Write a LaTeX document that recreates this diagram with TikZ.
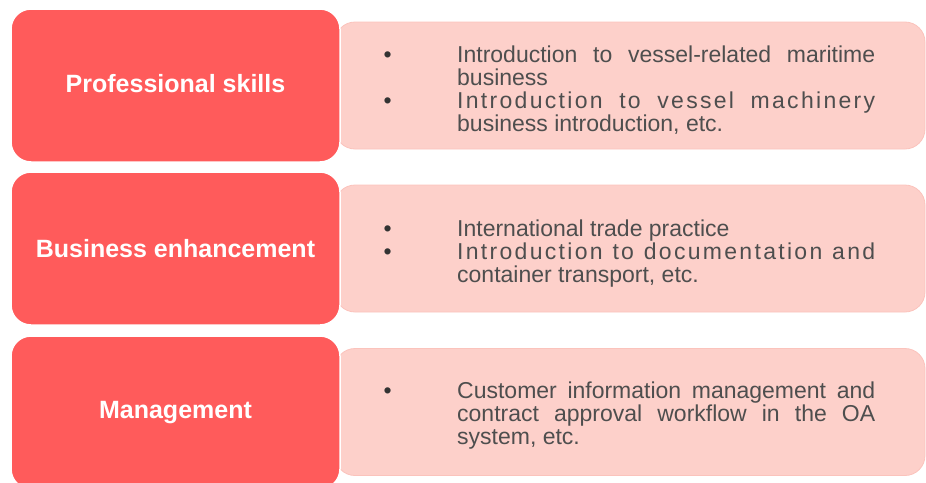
\documentclass[tikz,border=0pt]{standalone}
\usepackage{fontspec}
\setmainfont{Liberation Sans}
\newfontfamily\spacedfont[LetterSpace=10]{Liberation Sans}
\usepackage{xcolor}
\usepackage{tikz}
\definecolor{headred}{HTML}{FF5B5B}
\definecolor{bodypink}{HTML}{FDD0CA}
\definecolor{bodyline}{HTML}{FBC3BC}
\definecolor{bodytext}{HTML}{4E4E4E}
\definecolor{dotgray}{HTML}{333333}
\newcommand{\dotitem}{\leavevmode\llap{\textcolor{dotgray}{\textbullet}\hspace{65.5pt}}}% bullet hangs left of the text
\newcommand{\fullline}[1]{\makebox[418pt][s]{#1}}% justified line
\tikzset{
  headbox/.style={rectangle, rounded corners=20pt, fill=headred, draw=white, line width=1.5pt,
    minimum width=329pt, minimum height=153pt, inner sep=0pt, text=white,
    font=\fontsize{25}{25}\selectfont\bfseries},
  bodybox/.style={rectangle, rounded corners=20pt, fill=bodypink, draw=bodyline, line width=0.8pt,
    minimum width=590pt, minimum height=127pt, inner sep=0pt},
  bodytext/.style={anchor=base west, inner sep=0pt, text=bodytext,
    font=\fontsize{23}{23}\selectfont}
}

\begin{document}
\begin{tikzpicture}[x=1pt,y=-1pt]% one unit = one pixel of the 926x482 sheet, y downwards
\useasboundingbox (0,0) rectangle (926,482);
\node[bodybox] (skillsbody) at (630,85.5) {};% pink panels first
\node[bodybox] (tradebody) at (630,248.5) {};
\node[bodybox] (mgmtbody) at (630,412) {};
\node[headbox] (skills) at (175.5,85.5) {\raisebox{4pt}{Professional skills}};% red heads on top
\node[headbox] (trade) at (175.5,248.5) {Business enhancement};
\node[headbox] (mgmt) at (175.5,412.5) {Management};
\node[bodytext] (skillstext) at (457,62.3) {\parbox[t]{418pt}{%
  \fullline{\dotitem Introduction to vessel-related maritime}\\
  business\\
  \fullline{\dotitem\spacedfont Introduction to vessel machinery}\\
  business introduction, etc.}};
\node[bodytext] (tradetext) at (457,236.7) {\parbox[t]{418pt}{%
  \dotitem International trade practice\\
  \fullline{\dotitem\spacedfont Introduction to documentation and}\\
  container transport, etc.}};
\node[bodytext] (mgmttext) at (457,398.5) {\parbox[t]{418pt}{%
  \fullline{\dotitem Customer information management and}\\
  \fullline{contract approval workflow in the OA}\\
  system, etc.}};
\end{tikzpicture}
\end{document}
